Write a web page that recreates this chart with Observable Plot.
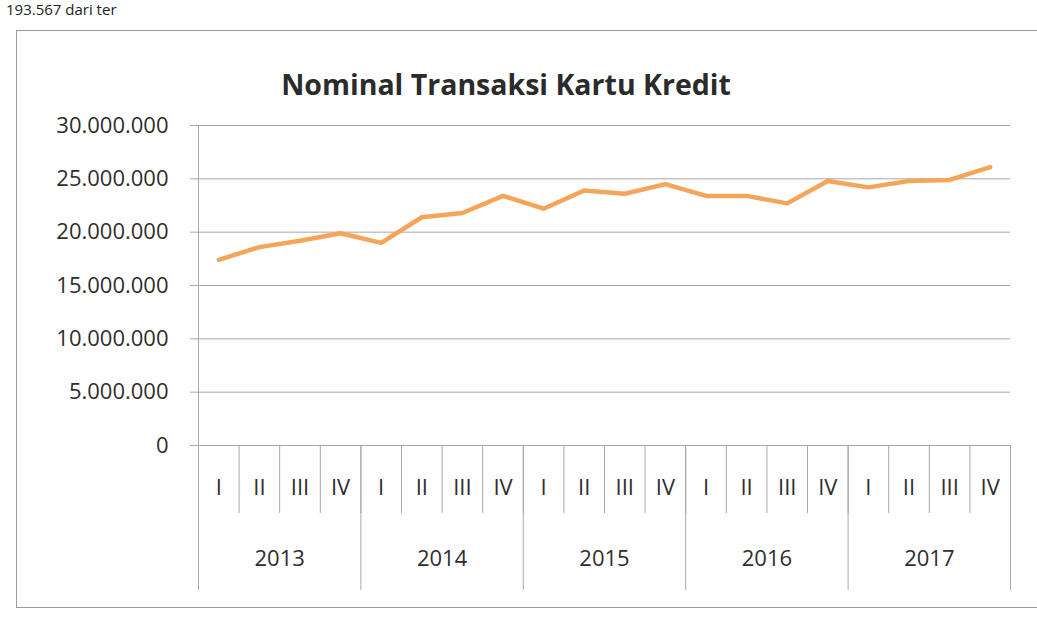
<!DOCTYPE html>
<html>
<head>
<meta charset="utf-8">
<script src="https://cdn.jsdelivr.net/npm/d3@7"></script>
<script src="https://cdn.jsdelivr.net/npm/@observablehq/plot@0.6"></script>
<style>
  html, body { margin: 0; padding: 0; background: #fff; }
  body { width: 1037px; height: 623px; overflow: hidden; position: relative; font-family: "Open Sans", sans-serif; }
  #toptext { position: absolute; left: 6px; top: 0px; font-size: 15px; line-height: 18px; color: #222; white-space: nowrap; }
  #box { position: absolute; left: 16px; top: 30px; width: 1030px; height: 578px; border: 1px solid #9a9a9a; box-sizing: border-box; }
  #title { position: absolute; left: 0; top: 67px; width: 1012px; text-align: center; font-weight: 700; font-size: 28.5px; line-height: 34px; color: #2b2b2b; }
  #chart { position: absolute; left: 0; top: 0; }
</style>
</head>
<body>
<div id="toptext">193.567 dari ter</div>
<div id="box"></div>
<div id="title">Nominal Transaksi Kartu Kredit</div>
<div id="chart"></div>
<script>
const years = ["2013", "2014", "2015", "2016", "2017"];
const quarters = ["I", "II", "III", "IV"];
const nominal = [
  17400000, 18600000, 19200000, 19900000,
  19000000, 21400000, 21800000, 23400000,
  22200000, 23900000, 23600000, 24500000,
  23400000, 23400000, 22700000, 24800000,
  24200000, 24800000, 24900000, 26100000
];
const yTicks = [0, 5000000, 10000000, 15000000, 20000000, 25000000, 30000000];

const n = years.length * quarters.length;
const idx = d3.range(n);
const data = idx.map(i => ({ i, v: nominal[i] }));
const quarterEdges = d3.range(n + 1).map(i => i - 0.5);
const yearEdges = d3.range(years.length + 1).map(k => k * quarters.length - 0.5);
const yearCenters = years.map((_, k) => k * quarters.length + (quarters.length - 1) / 2);
const fmt = d => d3.format(",")(d).replace(/,/g, ".");
const grey = "#a8a8a8";

const chart = Plot.plot({
  width: 1037,
  height: 623,
  marginLeft: 198,
  marginRight: 27,
  marginTop: 125,
  marginBottom: 178,
  style: { fontFamily: "Open Sans, sans-serif", fontSize: "22px", color: "#2e2e2e", background: "transparent", overflow: "visible" },
  x: { domain: [-0.5, n - 0.5], axis: null, label: null },
  y: { domain: [0, 30000000], axis: null, label: null },
  marks: [
    Plot.gridY({ ticks: yTicks, stroke: grey, strokeOpacity: 1, strokeWidth: 1 }),
    Plot.axisY({ ticks: yTicks, tickSize: 8, tickPadding: 22, tickFormat: fmt, stroke: grey, label: null, fontSize: 22 }),
    Plot.ruleX([-0.5], { stroke: grey }),
    Plot.axisX({ ticks: quarterEdges, tickSize: 68, tickFormat: () => "", stroke: grey, label: null }),
    Plot.axisX({ ticks: yearEdges, tickSize: 145, tickFormat: () => "", stroke: grey, label: null }),
    Plot.axisX({ ticks: idx, tickSize: 0, tickPadding: 34, tickFormat: i => quarters[i % quarters.length], label: null, fontSize: 22 }),
    Plot.axisX({ ticks: yearCenters, tickSize: 0, tickPadding: 105, tickFormat: (d, k) => years[k], label: null, fontSize: 22 }),
    Plot.line(data, { x: "i", y: "v", stroke: "#F5A55A", strokeWidth: 4.5, strokeLinejoin: "round", strokeLinecap: "round" })
  ]
});
document.getElementById("chart").append(chart);
</script>
</body>
</html>
